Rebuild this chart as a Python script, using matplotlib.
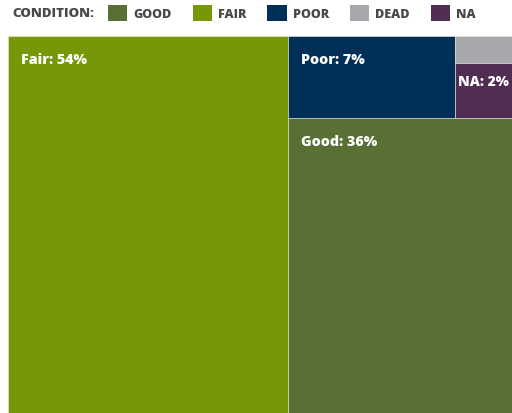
import matplotlib
matplotlib.use('Agg')
import matplotlib.pyplot as plt
from matplotlib.patches import Rectangle, Patch

# data
names = ['Fair', 'Good', 'Poor', 'Dead', 'NA']
pct = [54, 36, 7, 1, 2]
legend_order = ['Good', 'Fair', 'Poor', 'Dead', 'NA']
colors = {'Good': '#587034', 'Fair': '#769808', 'Poor': '#003057',
          'Dead': '#a7a8ac', 'NA': '#512d54'}
labelled = ['Fair', 'Good', 'Poor', 'NA']

plt.rcParams['font.family'] = ['Open Sans', 'DejaVu Sans']
val = dict(zip(names, pct))


def split(rect, keys, horizontal):
    # cut rect (x, y, w, h) into pieces sized by the values of keys
    x, y, w, h = rect
    tot = sum(sum(val[k] for k in g) for g in keys)
    out = []
    for g in keys:
        frac = sum(val[k] for k in g) / tot
        if horizontal:
            out.append((x, y, w * frac, h))
            x += w * frac
        else:
            out.append((x, y, w, h * frac))
            y += h * frac
    return out


# layout: Fair | [top row: Poor | (Dead / NA)] / Good
r_fair, r_rest = split((0, 0, 1, 1), [['Fair'], ['Good', 'Poor', 'Dead', 'NA']], True)
r_top, r_good = split(r_rest, [['Poor', 'Dead', 'NA'], ['Good']], False)
r_poor, r_small = split(r_top, [['Poor'], ['Dead', 'NA']], True)
r_dead, r_na = split(r_small, [['Dead'], ['NA']], False)
rects = {'Fair': r_fair, 'Good': r_good, 'Poor': r_poor, 'Dead': r_dead, 'NA': r_na}

fig = plt.figure(figsize=(5.12, 4.14), dpi=100)
W, H = 518.5, 376.0
ax = fig.add_axes([8 / 512, 1 - (37 + H) / 414, W / 512, H / 414])
ax.set_xlim(0, 1)
ax.set_ylim(1, 0)
ax.axis('off')

for k in names:
    x, y, w, h = rects[k]
    # stretch the bottom row past the canvas so it is cut off like the original
    if y + h > 0.999:
        h += 0.05
    ax.add_patch(Rectangle((x, y), w, h, facecolor=colors[k], clip_on=False,
                           edgecolor='#e8ecdc', linewidth=0.4))
    if k in labelled:
        small = w * W < 100
        dx, dy = (2.5, 13) if small else (9.5, 16.5)
        ax.annotate('%s: %d%%' % (k, val[k]), xy=(x, y), xytext=(dx, -dy),
                    textcoords='offset points', ha='left', va='center',
                    color='white', fontsize=10.3 if not small else 10,
                    fontweight='extra bold')

fig.text(12 / 512, 1 - 14 / 414, 'CONDITION:', ha='left', va='center',
         fontsize=9.5, fontweight='extra bold', color='#4a4a4a')
handles = [Patch(facecolor=colors[k], edgecolor='none') for k in legend_order]
fig.legend(handles, [k.upper() for k in legend_order], loc='center left',
           bbox_to_anchor=(108 / 512, 1 - 14 / 414), ncol=5, frameon=False,
           handlelength=1.55, handleheight=1.55, handletextpad=0.5,
           columnspacing=1.65, borderaxespad=0, borderpad=0,
           prop={'weight': 'extra bold', 'size': 9.0})
for t in fig.legends[0].get_texts():
    t.set_color('#4a4a4a')

fig.savefig('out.png', dpi=100)
